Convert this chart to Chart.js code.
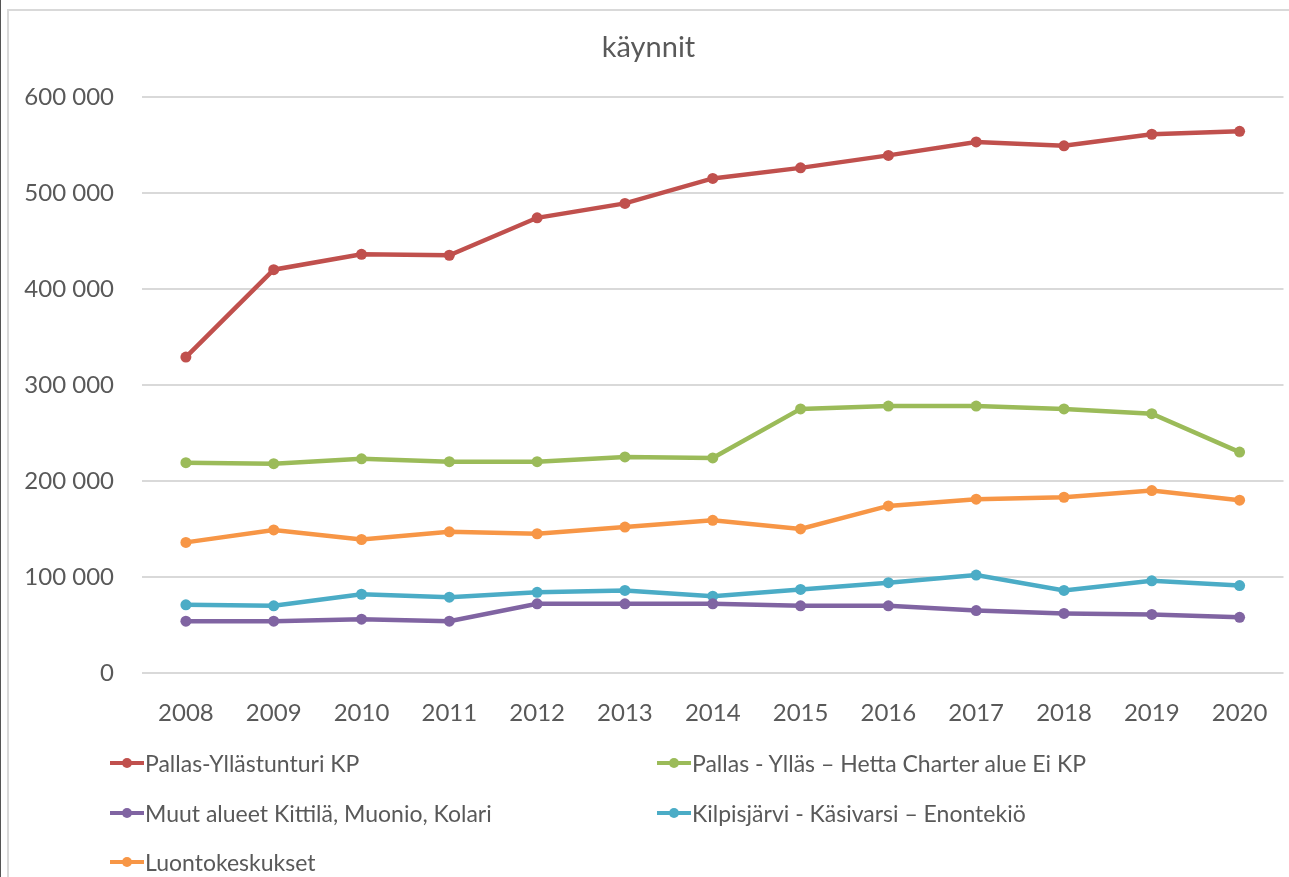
<!DOCTYPE html>
<html>
<head>
<meta charset="utf-8">
<script src="https://cdn.jsdelivr.net/npm/chart.js@4.4.1/dist/chart.umd.min.js"></script>
<style>
    html, body { margin: 0; padding: 0; background: #fff; overflow: hidden; }
    body { width: 1289px; height: 877px; position: relative; font-family: Lato, "Open Sans", sans-serif; }
    #edge { position: absolute; left: 0; top: 0; width: 1px; height: 877px; background: #555; }
    #frame { position: absolute; left: 7px; top: 9px; width: 1282px; height: 868px; border-left: 2px solid #d9d9d9; border-top: 2px solid #d9d9d9; }
    #wrap { position: absolute; left: 0; top: 0; width: 1289px; height: 877px; }
    #legend { position: absolute; left: 0; top: 0; width: 1289px; height: 877px; pointer-events: none; }
    .item { position: absolute; display: flex; align-items: center; color: #595959; font-size: 23px; white-space: nowrap; }
    .sym { position: relative; width: 34px; height: 12px; margin-right: 1px; }
    .sym .ln { position: absolute; left: 0; top: 4px; width: 34px; height: 4px; }
    .sym .dot { position: absolute; left: 12px; top: 1px; width: 10px; height: 10px; border-radius: 50%; }
</style>
</head>
<body>
<div id="edge"></div>
<div id="frame"></div>
<div id="wrap"><canvas id="lineChart"></canvas></div>
<div id="legend"></div>
<script>
const years = ["2008", "2009", "2010", "2011", "2012", "2013", "2014", "2015", "2016", "2017", "2018", "2019", "2020"];

const pallasKP = [329000, 420000, 436000, 435000, 474000, 489000, 515000, 526000, 539000, 553000, 549000, 561000, 564000];
const pallasCharter = [219000, 218000, 223000, 220000, 220000, 225000, 224000, 275000, 278000, 278000, 275000, 270000, 230000];
const muutAlueet = [54000, 54000, 56000, 54000, 72000, 72000, 72000, 70000, 70000, 65000, 62000, 61000, 58000];
const kilpisjarvi = [71000, 70000, 82000, 79000, 84000, 86000, 80000, 87000, 94000, 102000, 86000, 96000, 91000];
const luontokeskukset = [136000, 149000, 139000, 147000, 145000, 152000, 159000, 150000, 174000, 181000, 183000, 190000, 180000];

const seriesNames = [
    "Pallas-Yllästunturi KP",
    "Pallas - Ylläs – Hetta Charter alue Ei KP",
    "Muut alueet Kittilä, Muonio, Kolari",
    "Kilpisjärvi - Käsivarsi – Enontekiö",
    "Luontokeskukset"
];
const seriesColors = ["#C0504D", "#9BBB59", "#8064A2", "#4BACC6", "#F79646"];
const seriesData = [pallasKP, pallasCharter, muutAlueet, kilpisjarvi, luontokeskukset];

const fontFamily = "Lato, 'Open Sans', sans-serif";

function fmt(v) {
    return v.toString().replace(/\B(?=(\d{3})+(?!\d))/g, " ");
}

var ctx = document.getElementById('lineChart').getContext('2d');
var lineChart = new Chart(ctx, {
    type: 'line',
    data: {
        labels: years,
        datasets: seriesData.map((d, i) => ({
            label: seriesNames[i],
            data: d,
            borderColor: seriesColors[i],
            backgroundColor: seriesColors[i],
            borderWidth: 4.5,
            pointRadius: 5.5,
            pointBorderWidth: 0,
            pointHoverRadius: 5.5,
            fill: false,
            tension: 0
        }))
    },
    options: {
        responsive: true,
        maintainAspectRatio: false,
        animation: false,
        layout: { padding: { left: 8, top: 10, right: 0, bottom: 0 } },
        plugins: {
            legend: { display: false },
            tooltip: { enabled: false },
            title: {
                display: true,
                text: 'käynnit',
                color: '#595959',
                font: { family: fontFamily, size: 29, weight: 'normal', lineHeight: 1.2 },
                padding: { top: 20, bottom: 32 }
            }
        },
        scales: {
            x: {
                offset: true,
                afterFit: (scale) => { scale.height = 204; },
                grid: { display: false },
                border: { display: false },
                ticks: {
                    color: '#595959',
                    padding: 18,
                    maxRotation: 0,
                    font: { family: fontFamily, size: 24, lineHeight: 1.2 }
                }
            },
            y: {
                min: 0,
                max: 600000,
                afterFit: (scale) => { scale.width = 134; },
                grid: { color: '#d9d9d9', lineWidth: 2, drawTicks: false },
                border: { display: false },
                ticks: {
                    stepSize: 100000,
                    color: '#595959',
                    padding: 28,
                    font: { family: fontFamily, size: 24 },
                    callback: (v) => fmt(v)
                }
            }
        }
    }
});

// legend in Excel style: two columns
const legendPos = [[110, 763], [657, 763], [110, 813], [657, 813], [110, 862]];
let legendHtml = "";
lineChart.data.datasets.forEach((ds, i) => {
    legendHtml += `
    <div class="item" style="left:${legendPos[i][0]}px; top:${legendPos[i][1] - 16}px; height:32px;">
        <div class="sym"><div class="ln" style="background:${ds.borderColor}"></div><div class="dot" style="background:${ds.borderColor}"></div></div>
        <span>${ds.label}</span>
    </div>`;
});
document.getElementById("legend").innerHTML = legendHtml;
</script>
</body>
</html>
